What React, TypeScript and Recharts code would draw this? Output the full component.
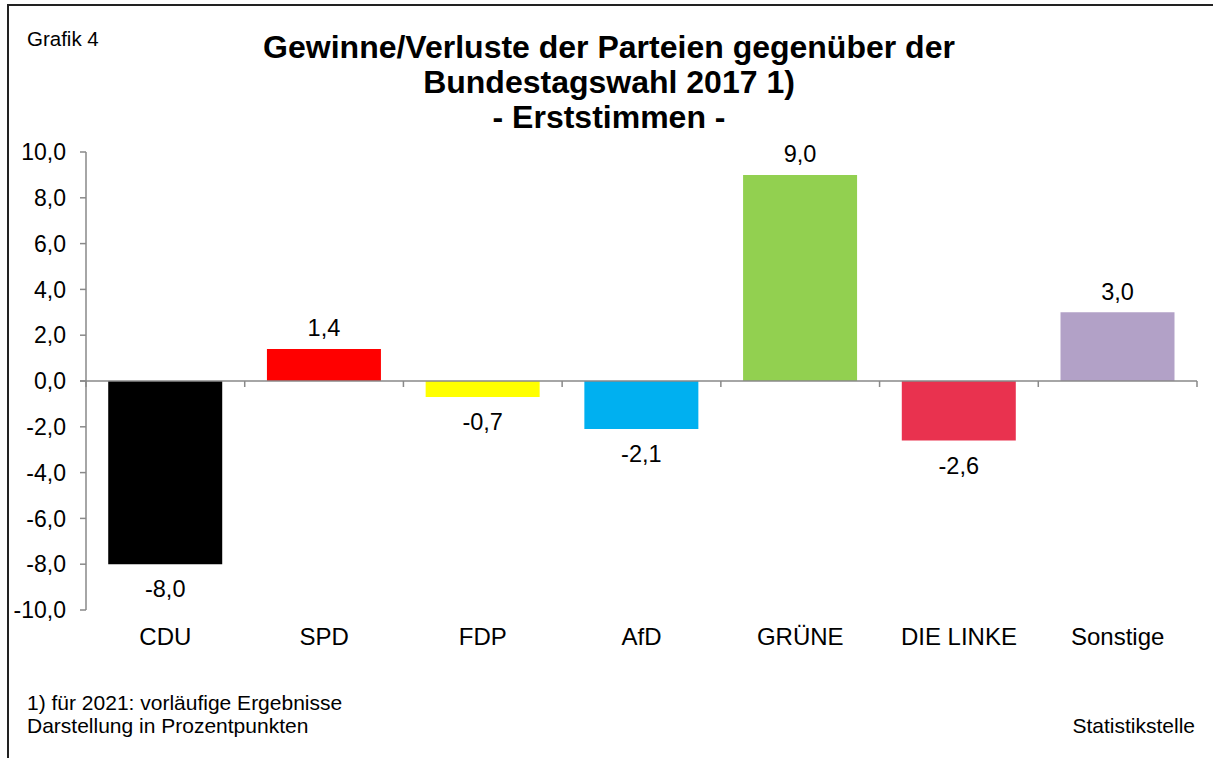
import { BarChart, Bar, XAxis, YAxis, Cell, LabelList, ReferenceLine } from 'recharts'

const PARTIES = ['CDU', 'SPD', 'FDP', 'AfD', 'GRÜNE', 'DIE LINKE', 'Sonstige']
const CHANGES = [-8.0, 1.4, -0.7, -2.1, 9.0, -2.6, 3.0]
const COLORS = ['#000000', '#ff0000', '#ffff00', '#00b0f0', '#92d050', '#e9324f', '#b2a1c7']
const Y_TICKS = [-10, -8, -6, -4, -2, 0, 2, 4, 6, 8, 10]

const FONT = '"Liberation Sans", Arial, sans-serif'
const AXIS_GREY = '#898989'

const data = PARTIES.map((name, i) => ({ name, value: CHANGES[i], color: COLORS[i] }))

const fmt = (v: number) => v.toFixed(1).replace('.', ',')

// zero line with the little category separators hanging below it
const ZeroLine = (props: any) => {
  const { x1, x2, y1 } = props
  const step = (x2 - x1) / PARTIES.length
  return (
    <g>
      <line x1={x1 - 6} y1={y1} x2={x2} y2={y1} stroke={AXIS_GREY} strokeWidth={1.5} />
      {Array.from({ length: PARTIES.length + 1 }, (_, i) => (
        <line key={i} x1={x1 + i * step} y1={y1} x2={x1 + i * step} y2={y1 + 6} stroke={AXIS_GREY} strokeWidth={1.5} />
      ))}
    </g>
  )
}

const ValueLabel = (props: any) => {
  const { x, y, width, height, value } = props
  const top = Math.min(y, y + height)
  const bottom = Math.max(y, y + height)
  const ty = value >= 0 ? top - 19 : bottom + 27
  return (
    <text x={x + width / 2} y={ty} textAnchor="middle" dominantBaseline="middle" fontSize={23.5} fontFamily={FONT} fill="#000">
      {fmt(value)}
    </text>
  )
}

export default function App() {
  return (
    <div style={{ position: 'relative', width: 1213, height: 758, background: '#fff', overflow: 'hidden', fontFamily: FONT }}>
      <style>{'body{margin:0}'}</style>
      <div style={{ position: 'absolute', left: 7, top: 4, width: 1220, height: 770, borderLeft: '2px solid #222', borderTop: '2px solid #222' }} />
      <div style={{ position: 'absolute', left: 27, top: 27, fontSize: 20.5 }}>Grafik 4</div>
      <div style={{ position: 'absolute', left: 0, width: 1218, top: 30, textAlign: 'center', fontSize: 32, fontWeight: 'bold', lineHeight: '35px' }}>
        Gewinne/Verluste der Parteien gegenüber der<br />Bundestagswahl 2017 1)<br />- Erststimmen -
      </div>

      <div style={{ position: 'absolute', left: 0, top: 0 }}>
        <BarChart width={1213} height={758} data={data} margin={{ top: 152, right: 16, bottom: 108, left: 0 }} barCategoryGap="14%">
          <YAxis
            domain={[-10, 10]}
            ticks={Y_TICKS}
            interval={0}
            width={86}
            tickFormatter={fmt}
            tickSize={6}
            tickMargin={14}
            axisLine={{ stroke: AXIS_GREY, strokeWidth: 1.5 }}
            tickLine={{ stroke: AXIS_GREY, strokeWidth: 1.5 }}
            tick={{ fill: '#000', fontSize: 23, fontFamily: FONT }}
          />
          <XAxis
            dataKey="name"
            axisLine={false}
            tickLine={false}
            height={40}
            tickMargin={12}
            tick={{ fill: '#000', fontSize: 24, fontFamily: FONT }}
          />
          <Bar dataKey="value" isAnimationActive={false}>
            {data.map((d) => (
              <Cell key={d.name} fill={d.color} />
            ))}
            <LabelList dataKey="value" content={ValueLabel} />
          </Bar>
          <ReferenceLine y={0} shape={ZeroLine} />
        </BarChart>
      </div>

      <div style={{ position: 'absolute', left: 27, top: 691, fontSize: 21, lineHeight: '23px' }}>
        1) für 2021: vorläufige Ergebnisse<br />Darstellung in Prozentpunkten
      </div>
      <div style={{ position: 'absolute', right: 18, top: 714, fontSize: 21, lineHeight: '23px' }}>Statistikstelle</div>
    </div>
  )
}
